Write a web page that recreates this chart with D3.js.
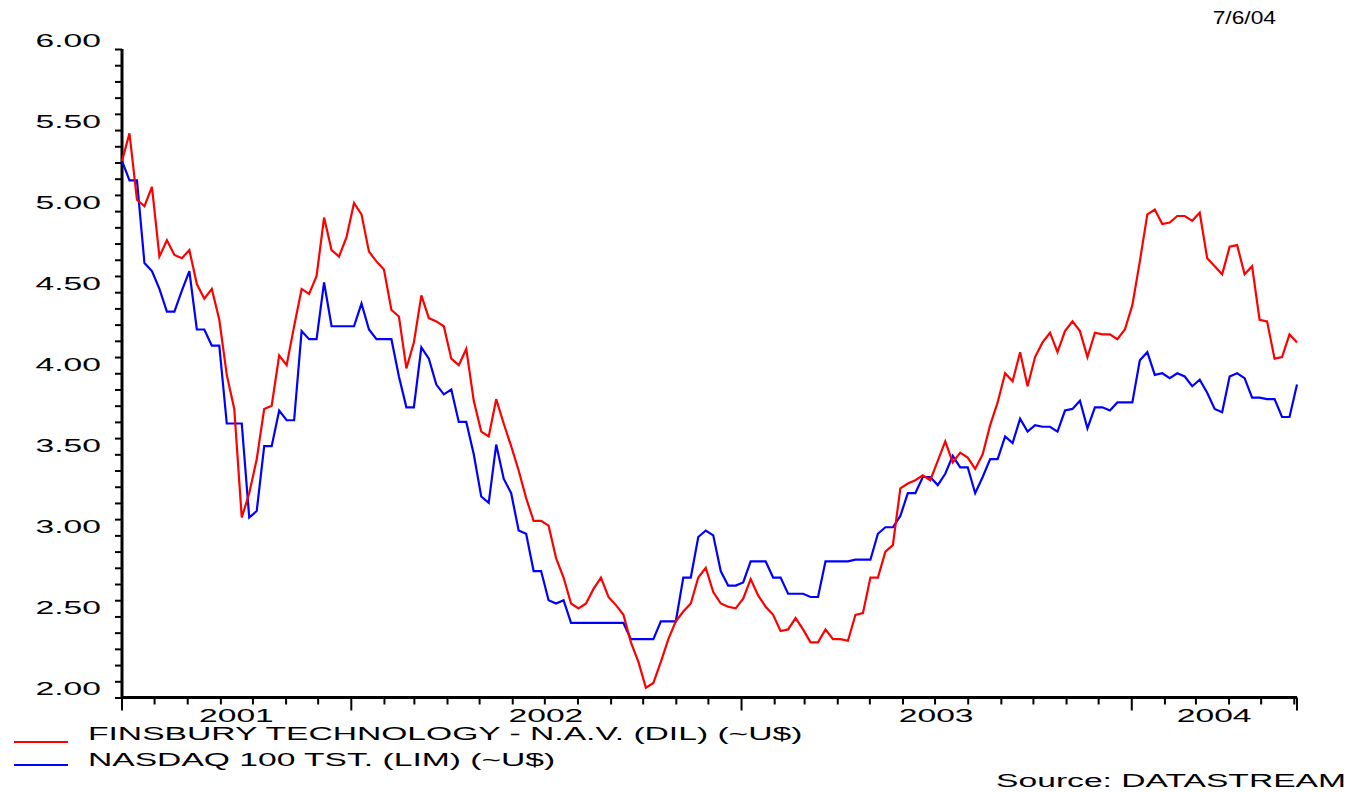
<!DOCTYPE html>
<html>
<head>
<meta charset="utf-8">
<script src="https://cdn.jsdelivr.net/npm/d3@7"></script>
<style>
  html, body { margin: 0; padding: 0; background: #fff; }
  svg { display: block; font-family: "Liberation Sans", Arial, sans-serif; }
</style>
</head>
<body>
<div id="plot"></div>
<script>
// Weekly closes, rebased (~U$), first week of June 2001 onwards.
var firstWeek = new Date(2001, 5, 1);
var lastDay = new Date(2004, 5, 4);

var finsbury = [
    5.31, 5.48, 5.07, 5.03, 5.15, 4.72, 4.82, 4.73, 4.71, 4.76, 4.55, 4.46, 4.52, 4.33,
    3.99, 3.78, 3.11, 3.26, 3.47, 3.78, 3.80, 4.11, 4.05, 4.29, 4.52, 4.49, 4.60, 4.96,
    4.76, 4.72, 4.84, 5.05, 4.98, 4.75, 4.69, 4.64, 4.39, 4.35, 4.03, 4.19, 4.48, 4.34,
    4.32, 4.29, 4.09, 4.05, 4.15, 3.83, 3.64, 3.61, 3.84, 3.69, 3.55, 3.40,
    3.23, 3.09, 3.09, 3.06, 2.86, 2.74, 2.58, 2.55, 2.58, 2.67, 2.74, 2.62, 2.57, 2.51,
    2.34, 2.22, 2.06, 2.09, 2.22, 2.36, 2.47, 2.53, 2.58, 2.74, 2.80, 2.65,
    2.58, 2.56, 2.55, 2.61, 2.73, 2.63, 2.56, 2.51, 2.41, 2.42, 2.49, 2.42, 2.34, 2.34,
    2.42, 2.36, 2.36, 2.35, 2.51, 2.52, 2.74, 2.74, 2.90, 2.94,
    3.29, 3.32, 3.34, 3.37, 3.34, 3.46, 3.58, 3.45, 3.51, 3.48, 3.41, 3.50, 3.68, 3.82,
    4.00, 3.95, 4.13, 3.92, 4.10, 4.19, 4.25, 4.13, 4.26, 4.32, 4.26, 4.10, 4.25, 4.24,
    4.24, 4.21, 4.27, 4.42, 4.69, 4.98, 5.01, 4.92, 4.93, 4.97, 4.97, 4.94, 4.99, 4.71,
    4.66, 4.61, 4.78, 4.79, 4.61, 4.66, 4.33, 4.32, 4.09, 4.10, 4.24, 4.19
];

var nasdaq = [
    5.31, 5.19, 5.19, 4.68, 4.63, 4.52, 4.38, 4.38, 4.51, 4.63, 4.27, 4.27, 4.17, 4.17,
    3.69, 3.69, 3.69, 3.11, 3.15, 3.55, 3.55, 3.77, 3.71, 3.71, 4.26, 4.21, 4.21, 4.56,
    4.29, 4.29, 4.29, 4.29, 4.43, 4.27, 4.21, 4.21, 4.21, 3.98, 3.79, 3.79, 4.16, 4.09,
    3.93, 3.87, 3.90, 3.70, 3.70, 3.50, 3.24, 3.20, 3.56, 3.35, 3.26,
    3.03, 3.01, 2.78, 2.78, 2.60, 2.58, 2.60, 2.46, 2.46, 2.46, 2.46, 2.46, 2.46, 2.46,
    2.46, 2.36, 2.36, 2.36, 2.36, 2.47, 2.47, 2.47, 2.74, 2.74, 2.99, 3.03, 3.00,
    2.78, 2.69, 2.69, 2.71, 2.84, 2.84, 2.84, 2.74, 2.74, 2.64, 2.64, 2.64, 2.62, 2.62,
    2.84, 2.84, 2.84, 2.84, 2.85, 2.85, 2.85, 3.01, 3.05, 3.05,
    3.12, 3.26, 3.26, 3.36, 3.36, 3.31, 3.38, 3.49, 3.42, 3.42, 3.26, 3.36, 3.47, 3.47,
    3.61, 3.57, 3.72, 3.64, 3.68, 3.67, 3.67, 3.64, 3.77, 3.78, 3.83, 3.66, 3.79, 3.79,
    3.77, 3.82, 3.82, 3.82, 4.08, 4.13, 3.99, 4.00, 3.97, 4.00, 3.98, 3.92, 3.96, 3.88,
    3.78, 3.76, 3.98, 4.00, 3.97, 3.85, 3.85, 3.84, 3.84, 3.73, 3.73, 3.93
];

var seriesNames = [
    "FINSBURY TECHNOLOGY - N.A.V. (DIL) (~U$)",
    "NASDAQ 100 TST. (LIM) (~U$)"
];
var seriesColors = ["#ff0000", "#0000ff"];
var yMajor = [2.0, 2.5, 3.0, 3.5, 4.0, 4.5, 5.0, 5.5, 6.0];
var years = [2001, 2002, 2003, 2004];
var dateStamp = "7/6/04";
var sourceText = "Source: DATASTREAM";

var W = 1350, H = 792;
var plotLeft = 122, plotRight = 1297, plotTop = 49, plotBottom = 697.5;
var stretch = 1.77;   // datastream fonts are wide

var svg = d3.select("div#plot")
    .append("svg")
        .attr("width", W)
        .attr("height", H)
        .attr("viewBox", "0 0 " + W + " " + H);

svg.append("rect").attr("width", W).attr("height", H).attr("fill", "#fff");

var x = d3.scaleTime().domain([firstWeek, lastDay]).range([plotLeft, plotRight]);
var y = d3.scaleLinear().domain([2, 6]).range([plotBottom, plotTop]);

var dates = finsbury.map(function(_, i) { return d3.timeDay.offset(firstWeek, 7 * i); });

// Wide text: scaled horizontally around its anchor point.
function label(str, px, py, anchor, sx) {
    return svg.append("text")
        .attr("transform", "translate(" + px + "," + py + ") scale(" + (sx || stretch) + ",1)")
        .attr("text-anchor", anchor || "start")
        .attr("font-size", 19)
        .attr("fill", "#000")
        .text(str);
}

// Y axis: ticks every 0.1, labels sit just above the major ticks.
var yAxis = d3.axisLeft(y)
    .tickValues(d3.range(20, 61).map(function(d) { return d / 10; }))
    .tickSize(7)
    .tickFormat("");
var gy = svg.append("g").attr("transform", "translate(" + plotLeft + ",0)").call(yAxis);
gy.select(".domain").remove();
gy.selectAll(".tick line").attr("stroke", "#000").attr("stroke-width", 2);

yMajor.forEach(function(v) {
    label(d3.format(".2f")(v), 101, y(v) - 2.5, "end");
});

// X axis: monthly ticks, long ticks at year boundaries and axis ends.
var months = d3.timeMonth.range(d3.timeMonth.offset(firstWeek, 1), lastDay);
var xAxis = d3.axisBottom(x).tickValues(months).tickSize(7).tickFormat("");
var gx = svg.append("g").attr("transform", "translate(0," + plotBottom + ")").call(xAxis);
gx.select(".domain").remove();
gx.selectAll(".tick line")
    .attr("stroke", "#000")
    .attr("stroke-width", 2)
    .attr("y2", function(d) { return d.getMonth() === 0 ? 13 : 7; });
[firstWeek, lastDay].forEach(function(d) {
    svg.append("line")
        .attr("x1", x(d)).attr("x2", x(d))
        .attr("y1", plotBottom).attr("y2", plotBottom + 13)
        .attr("stroke", "#000").attr("stroke-width", 2);
});

years.forEach(function(yr) {
    var a = new Date(Math.max(new Date(yr, 0, 1), firstWeek));
    var b = new Date(Math.min(new Date(yr + 1, 0, 1), lastDay));
    label(String(yr), (x(a) + x(b)) / 2, 721.5, "middle");
});

// Axis lines
svg.append("path")
    .attr("d", "M" + plotLeft + "," + plotTop + "V" + plotBottom + "H" + plotRight)
    .attr("fill", "none")
    .attr("stroke", "#000")
    .attr("stroke-width", 3);

// Series
var line = d3.line()
    .x(function(d, i) { return x(dates[i]); })
    .y(function(d) { return y(d); });

[nasdaq, finsbury].forEach(function(s, k) {
    svg.append("path")
        .datum(s)
        .attr("d", line)
        .attr("fill", "none")
        .attr("stroke", seriesColors[1 - k])
        .attr("stroke-width", 2.2)
        .attr("stroke-linejoin", "miter");
});

// Legend
var legendY = [742, 765];
seriesNames.forEach(function(name, i) {
    svg.append("line")
        .attr("x1", 14).attr("x2", 68)
        .attr("y1", legendY[i]).attr("y2", legendY[i])
        .attr("stroke", seriesColors[i])
        .attr("stroke-width", 2);
    label(name, 88, legendY[i] - 2.5 + i * 3.5, "start");
});

label(dateStamp, 1276, 24, "end", 1.2);
label(sourceText, 1346, 787, "end");
</script>
</body>
</html>
